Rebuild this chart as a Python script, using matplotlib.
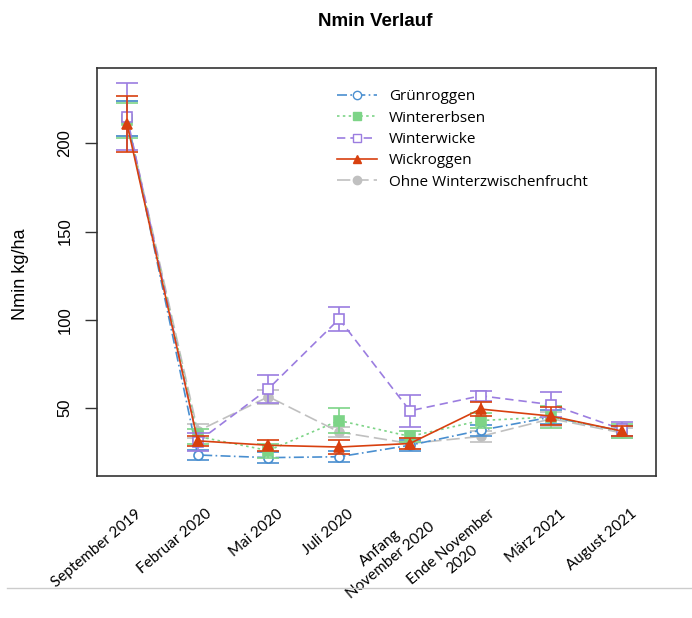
import matplotlib
matplotlib.use("Agg")
import matplotlib.pyplot as plt
from matplotlib.lines import Line2D
import matplotlib.transforms as mtransforms
import numpy as np

categories = ["September 2019", "Februar 2020", "Mai 2020", "Juli 2020",
              "Anfang\nNovember 2020", "Ende November\n2020", "März 2021", "August 2021"]
series_names = ["Grünroggen", "Wintererbsen", "Winterwicke", "Wickroggen", "Ohne Winterzwischenfrucht"]
gruenroggen = [214, 23.5, 22, 22.5, 29, 37.5, 45, 37]
wintererbsen = [213, 34, 26, 43, 34, 43, 45, 37]
winterwicke = [215, 31, 61, 100.5, 48.5, 57, 52, 38]
wickroggen = [211, 31.5, 29, 28, 30, 49.5, 45.5, 37]
ohne = [214, 37, 56.5, 36.5, 30, 34, 44, 36]
err_gruen = [10, 3, 3, 3, 3, 3, 4, 3]
err_erbsen = [10, 4, 4, 7, 3, 4, 6, 4]
err_wicke = [19, 5, 8, 7, 9, 3, 7, 4]
err_wickroggen = [16, 3, 3, 4, 3, 4, 5, 3]
err_ohne = [10, 4, 4, 3, 3, 3, 4, 3]
yticks = [50, 100, 150, 200]

fig = plt.figure(figsize=(6.92, 6.18), dpi=100)
ax = fig.add_axes([97/692, 1-476/618, (656-97)/692, (476-68)/618])

x = np.arange(1, len(categories)+1)
styles = [
    (gruenroggen, err_gruen, "#4a8fd0", (0, (6, 2, 1, 2)), "o", "white", 4),
    (wintererbsen, err_erbsen, "#7dd487", (0, (1.5, 2)), "s", "#7dd487", 5),
    (winterwicke, err_wicke, "#9b7de0", (0, (5, 3)), "s", "white", 6),
    (wickroggen, err_wickroggen, "#d8400f", "-", "^", "#d8400f", 7),
    (ohne, err_ohne, "#c0c0c0", (0, (8, 3)), "o", "#c0c0c0", 2),
]
handles = []
for (vals, errs, col, ls, mk, fc, z), name in zip(styles, series_names):
    ax.errorbar(x, vals, yerr=errs, color=col, ecolor=col, elinewidth=1.2,
                capsize=8, capthick=1.2, linestyle="none", zorder=z)
    ax.plot(x, vals, color=col, linestyle=ls, linewidth=1.2, marker=mk,
            markersize=6.5, markerfacecolor=fc, markeredgecolor=col,
            markeredgewidth=1.2, zorder=z + 0.5)
    handles.append(Line2D([], [], color=col, linestyle=ls, linewidth=1.2, marker=mk,
                          markersize=6, markerfacecolor=fc, markeredgecolor=col))

ax.set_xlim(0.576, 8.48)
ax.set_ylim(11.6, 242.6)
ax.set_xticks([])
ax.set_yticks(yticks)
ax.set_yticklabels([str(t) for t in yticks], rotation=90, va="center",
                   fontsize=12, family="Liberation Sans")
ax.tick_params(axis="y", length=8.6, width=1, pad=9, color="#333333")
for s in ax.spines.values():
    s.set_linewidth(1.2)
    s.set_color("#333333")

fig.text(21/692, 1-274/618, "Nmin kg/ha", rotation=90, ha="center", va="center",
         fontsize=13, family="Liberation Sans")

ax.legend(handles, series_names, loc="upper left", bbox_to_anchor=(0.405, 0.982),
          frameon=False, handlelength=2.6, handletextpad=0.8,
          labelspacing=0.42, prop={"family": "Open Sans", "size": 11})

fig.text(375/692, 1-22/618, "Nmin Verlauf", ha="center", va="center",
         fontsize=13.5, fontweight="bold", family="Liberation Sans")

# rotated category labels below the axes
offset = mtransforms.ScaledTranslation(8/100, -31/100, fig.dpi_scale_trans)
trans = ax.get_xaxis_transform() + offset
for xi, lab in zip(x, categories):
    ax.text(xi, 0, lab, transform=trans, rotation=40, ha="right", va="top",
            rotation_mode="anchor", fontsize=11, family="Lato",
            multialignment="center", clip_on=False)

fig.add_artist(Line2D([7/692, 1], [1-588/618, 1-588/618], transform=fig.transFigure,
                      color="#cccccc", linewidth=1.0))

fig.savefig("out.png", dpi=100)
